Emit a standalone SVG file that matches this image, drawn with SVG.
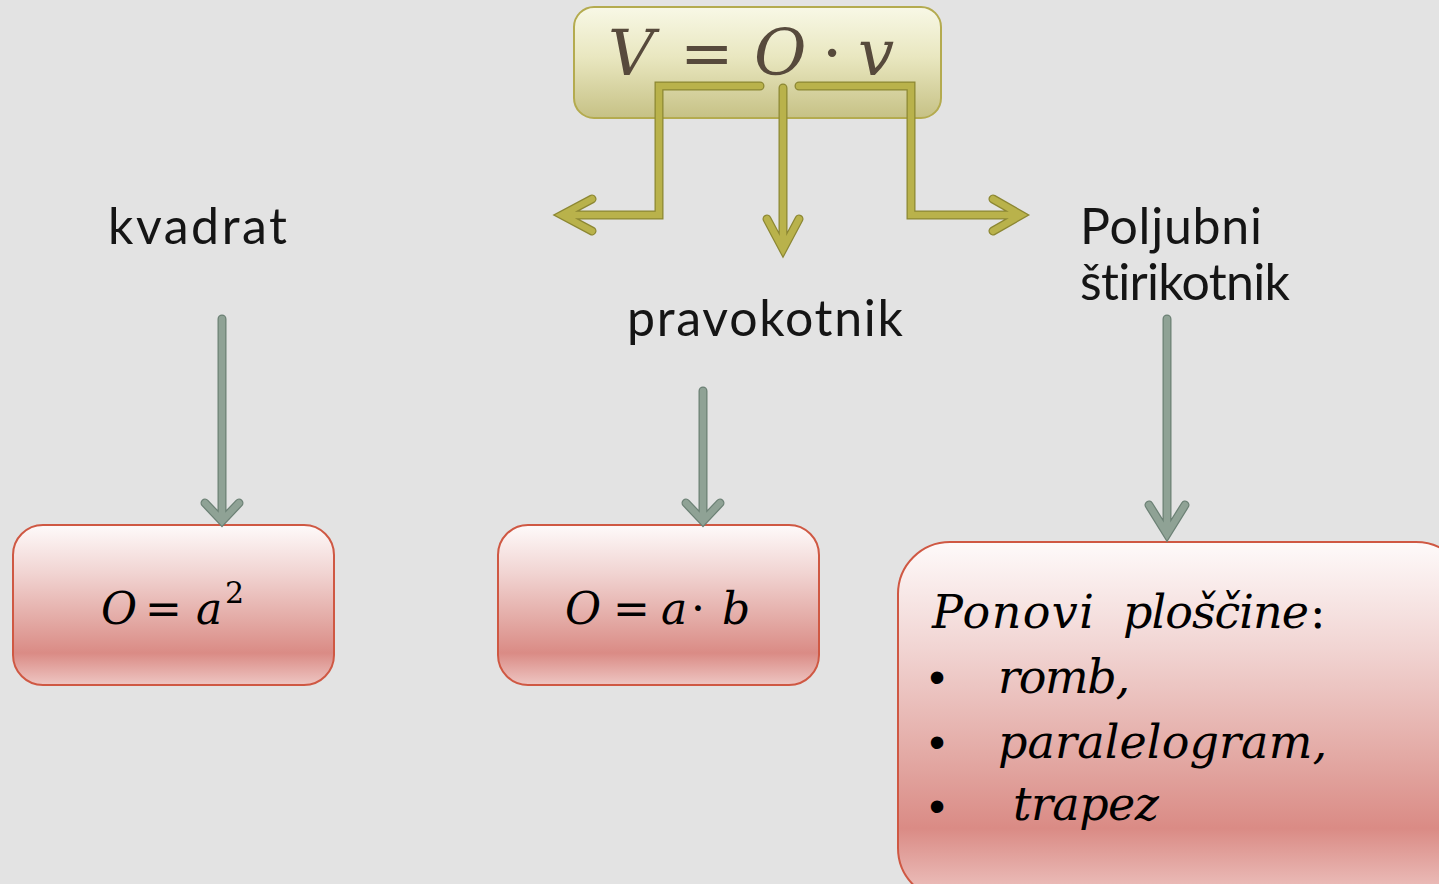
<svg xmlns="http://www.w3.org/2000/svg" width="1439" height="884" viewBox="0 0 1439 884">
  <defs>
    <linearGradient id="gOlive" x1="0" y1="0" x2="0" y2="1">
      <stop offset="0" stop-color="#f8f8e6"/>
      <stop offset="0.45" stop-color="#e9e7c0"/>
      <stop offset="1" stop-color="#c6c185"/>
    </linearGradient>
    <linearGradient id="gRed" x1="0" y1="0" x2="0" y2="1">
      <stop offset="0" stop-color="#fefafa"/>
      <stop offset="0.3" stop-color="#f1d4d2"/>
      <stop offset="0.6" stop-color="#e3a9a4"/>
      <stop offset="0.8" stop-color="#da8b85"/>
      <stop offset="1" stop-color="#eec6c3"/>
    </linearGradient>
    <!-- connector geometry, drawn twice: dark outline then light core -->
    <path id="oLeft" d="M760,86 H659 V215 H566 M592,199 L562,215 L592,231"/>
    <path id="oMid" d="M783,88 V246 M767,219 L783,249 L799,219"/>
    <path id="oRight" d="M799,86 H911 V215 H1018 M993,199 L1021,215 L993,231"/>
    <path id="gLeft" d="M222,319 V519 M205,503 L222,521 L239,503"/>
    <path id="gMid" d="M703,391 V519 M686,503 L703,521 L720,503"/>
    <path id="gRight" d="M1167,319 V530 M1149,505 L1167,534 L1185,505"/>
  </defs>
  <style>
    .bg { fill: #e3e3e3; }
    .top { fill: url(#gOlive); stroke: #b4ab4f; stroke-width: 2; }
    .box { fill: url(#gRed); stroke: #cf5843; stroke-width: 2; }
    .label { font-family: Lato, "Liberation Sans", sans-serif; font-size: 50px; fill: #151515; font-variant-ligatures: none; }
    .math { font-family: "DejaVu Serif", "Liberation Serif", serif; font-style: italic; fill: #000; }
    .up { font-family: "DejaVu Serif", "Liberation Serif", serif; font-style: normal; fill: #000; }
    .brown { fill: #574a3c; }
    .bul { font-family: "Liberation Sans", sans-serif; fill: #000; }
    .conn use { fill: none; stroke-linecap: round; stroke-linejoin: miter; }
    .oOut { stroke: #8c8733; stroke-width: 9; }
    .oIn { stroke: #b9b24b; stroke-width: 6.5; }
    .gOut { stroke: #6c8175; stroke-width: 9; }
    .gIn { stroke: #8fa295; stroke-width: 6.5; }
  </style>

  <rect class="bg" x="0" y="0" width="1439" height="884"/>

  <!-- volume formula -->
  <g id="volume">
    <rect class="top" x="574" y="7" width="367" height="111" rx="20"/>
    <g font-size="64">
      <text class="math brown" x="608" y="75">V</text>
      <text class="up brown" x="680" y="75">=</text>
      <text class="math brown" x="754" y="75">O</text>
      <text class="up brown" x="822" y="75">·</text>
      <text class="math brown" x="858" y="75">v</text>
    </g>
  </g>

  <g id="kvadrat">
    <text class="label" x="108" y="244" textLength="179" lengthAdjust="spacing">kvadrat</text>
  </g>

  <g id="pravokotnik">
    <text class="label" x="627" y="336" textLength="276" lengthAdjust="spacing">pravokotnik</text>
  </g>

  <g id="poljubni">
    <text class="label" x="1080" y="244" textLength="182" lengthAdjust="spacing">Poljubni</text>
    <text class="label" x="1080" y="300" textLength="210" lengthAdjust="spacing">štirikotnik</text>
  </g>

  <!-- area of a square -->
  <g id="area-square" font-size="44">
    <rect class="box" x="13" y="525" width="321" height="160" rx="30"/>
    <text class="math" x="101" y="624">O</text>
    <text class="up" x="145" y="624">=</text>
    <text class="math" x="196" y="624">a</text>
    <text class="up" x="225" y="603" font-size="30">2</text>
  </g>

  <!-- area of a rectangle -->
  <g id="area-rectangle" font-size="44">
    <rect class="box" x="498" y="525" width="321" height="160" rx="30"/>
    <text class="math" x="565" y="624">O</text>
    <text class="up" x="613" y="624">=</text>
    <text class="math" x="661" y="624">a</text>
    <text class="up" x="691" y="624">·</text>
    <text class="math" x="722" y="624">b</text>
  </g>

  <!-- general quadrilateral -->
  <g id="area-quadrilateral" font-size="46">
    <rect class="box" x="898" y="542" width="570" height="358" rx="52"/>
    <text class="math" x="932" y="628" textLength="162" lengthAdjust="spacing">Ponovi</text>
    <text class="math" x="1123" y="628" textLength="186" lengthAdjust="spacing">ploščine</text>
    <text class="up" x="1310" y="628">:</text>
    <text class="bul" x="929" y="693">•</text>
    <text class="math" x="998" y="693" textLength="132" lengthAdjust="spacing">romb,</text>
    <text class="bul" x="929" y="758">•</text>
    <text class="math" x="998" y="758" textLength="329" lengthAdjust="spacing">paralelogram,</text>
    <text class="bul" x="929" y="822">•</text>
    <text class="math" x="1013" y="820" textLength="146" lengthAdjust="spacing">trapez</text>
  </g>

  <!-- connectors -->
  <g id="connectors" class="conn">
    <use href="#oLeft" class="oOut"/>
    <use href="#oMid" class="oOut"/>
    <use href="#oRight" class="oOut"/>
    <use href="#oLeft" class="oIn"/>
    <use href="#oMid" class="oIn"/>
    <use href="#oRight" class="oIn"/>
    <use href="#gLeft" class="gOut"/>
    <use href="#gMid" class="gOut"/>
    <use href="#gRight" class="gOut"/>
    <use href="#gLeft" class="gIn"/>
    <use href="#gMid" class="gIn"/>
    <use href="#gRight" class="gIn"/>
  </g>
</svg>
